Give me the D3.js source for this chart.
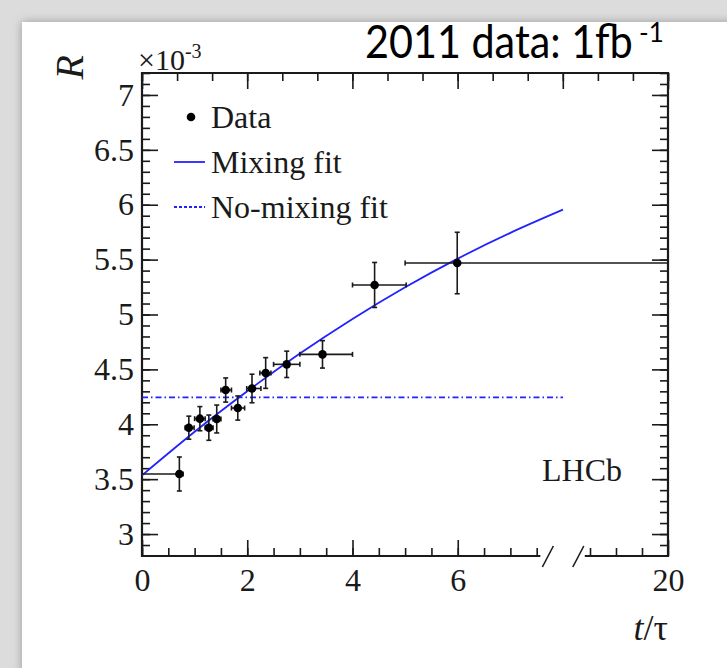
<!DOCTYPE html>
<html><head><meta charset="utf-8">
<script src="https://cdn.jsdelivr.net/npm/d3@7"></script>
<style>html,body{margin:0;padding:0;background:#dcdcdc;} svg{display:block;}</style>
</head><body><svg id="c" width="727" height="668"></svg>
<script>
// ---- data (R in units of 1e-3, t in units of tau) ----
const binCenter = [0.71, 0.89, 1.10, 1.27, 1.42, 1.59, 1.82, 2.09, 2.35, 2.75, 3.43, 4.42, 5.99];
const binLow    = [0.00, 0.82, 1.00, 1.20, 1.35, 1.50, 1.70, 1.99, 2.24, 2.50, 3.00, 4.00, 5.00];
const binHigh   = [0.78, 0.99, 1.20, 1.35, 1.50, 1.70, 1.95, 2.26, 2.45, 3.00, 4.00, 5.02, 20.0];
const ratio     = [3.547, 3.969, 4.051, 3.969, 4.048, 4.312, 4.148, 4.326, 4.467, 4.546, 4.637, 5.269, 5.469];
const ratioErr  = [0.155, 0.105, 0.110, 0.115, 0.127, 0.110, 0.110, 0.130, 0.140, 0.120, 0.125, 0.205, 0.280];
const mixT = [0, 1, 2, 3, 4, 5, 6, 7, 8];
const mixR = [3.535, 3.932, 4.301, 4.644, 4.959, 5.248, 5.509, 5.744, 5.955];
const noMixT = [0, 8];
const noMixR = [4.245, 4.245];
const yMajorTicks = [3, 3.5, 4, 4.5, 5, 5.5, 6, 6.5, 7];
const yTickLabels = ["3", "3.5", "4", "4.5", "5", "5.5", "6", "6.5", "7"];
const xMajorTicks = [0, 2, 4, 6, 20];
const xTickLabels = ["0", "2", "4", "6", "20"];
const legendLabels = ["Data", "Mixing fit", "No-mixing fit"];

// ---- layout ----
const L = 142, R = 668, T = 73, B = 556;
const svg = d3.select("#c");
const defs = svg.append("defs");
const f = defs.append("filter").attr("id","sh").attr("x","-5%").attr("y","-5%").attr("width","110%").attr("height","110%");
f.append("feGaussianBlur").attr("stdDeviation", 5);
svg.append("rect").attr("width",727).attr("height",668).attr("fill","#dcdcdc");
svg.append("rect").attr("x",22).attr("y",22).attr("width",720).attr("height",680).attr("fill","#9a9a9a").attr("filter","url(#sh)");
svg.append("rect").attr("x",22).attr("y",22).attr("width",720).attr("height",680).attr("fill","#ffffff");

const x = d3.scaleLinear().domain([0, 8, 16, 20]).range([L, 563, 564, R]);
const xTop = d3.scaleLinear().domain([0, 10]).range([L, R]);
const y = d3.scaleLinear().domain([2.8, 7.2]).range([B, T]);

const serif = "'Liberation Serif','Times New Roman',serif";
const ink = "#1a1a1a";

function styleAxis(g){
  g.select(".domain").remove();
  g.selectAll(".tick line").attr("stroke", ink).attr("stroke-width", 1.6);
  g.selectAll(".tick text").attr("font-family", serif).attr("font-size", 32).attr("fill", ink);
}

// left axis
const yMinor = d3.range(2.9, 7.2, 0.1).map(v => +v.toFixed(1));
svg.append("g").attr("transform",`translate(${L},0)`).call(d3.axisLeft(y).tickValues(yMinor).tickSize(-8).tickFormat("")).call(styleAxis);
svg.append("g").attr("transform",`translate(${L},0)`).call(d3.axisLeft(y).tickValues(yMajorTicks).tickSize(-16).tickPadding(8).tickFormat((d,i)=>yTickLabels[i])).call(styleAxis);
// right axis
svg.append("g").attr("transform",`translate(${R},0)`).call(d3.axisRight(y).tickValues(yMinor).tickSize(-8).tickFormat("")).call(styleAxis);
svg.append("g").attr("transform",`translate(${R},0)`).call(d3.axisRight(y).tickValues(yMajorTicks).tickSize(-16).tickFormat("")).call(styleAxis);
// top axis
const topMinor = d3.range(0, 10.01, 2/3).map(v => +v.toFixed(3));
svg.append("g").attr("transform",`translate(0,${T})`).call(d3.axisTop(xTop).tickValues(topMinor).tickSize(-8).tickFormat("")).call(styleAxis);
svg.append("g").attr("transform",`translate(0,${T})`).call(d3.axisTop(xTop).tickValues([0,2,4,6,8,10]).tickSize(-16).tickFormat("")).call(styleAxis);
// bottom axis
const xMinor = d3.range(0, 7.51, 0.5).concat([17, 18, 19]);
svg.append("g").attr("transform",`translate(0,${B})`).call(d3.axisBottom(x).tickValues(xMinor).tickSize(-8).tickFormat("")).call(styleAxis);
const bx = svg.append("g").attr("transform",`translate(0,${B})`).call(d3.axisBottom(x).tickValues(xMajorTicks).tickSize(-16).tickPadding(12).tickFormat((d,i)=>xTickLabels[i])).call(styleAxis);
bx.selectAll(".tick text").attr("dy","0.71em");

// frame
const frame = svg.append("g").attr("stroke", ink).attr("stroke-width", 2.2).attr("fill","none");
frame.append("path").attr("d", `M${x(7.57)},${B}H${L}V${T}H${R}V${B}H${x(16.8)}`);
frame.append("line").attr("x1", x(7.57)+2).attr("y1", B+11).attr("x2", x(7.57)+13).attr("y2", B-10).attr("stroke-width",1.6);
frame.append("line").attr("x1", x(16.8)-12).attr("y1", B+11).attr("x2", x(16.8)-1).attr("y2", B-10).attr("stroke-width",1.6);

// fits
const blue = "#2222ff";
const line = d3.line().x(d => x(d[0])).y(d => y(d[1]));
svg.append("path").attr("d", line(noMixT.map((t,i)=>[t,noMixR[i]])))
  .attr("stroke", blue).attr("stroke-width", 1.8).attr("fill","none").attr("stroke-dasharray","6,3,1.5,3");
svg.append("path").attr("d", line.curve(d3.curveNatural)(mixT.map((t,i)=>[t,mixR[i]])))
  .attr("stroke", blue).attr("stroke-width", 1.8).attr("fill","none");

// data
const eb = svg.append("g").attr("stroke", ink).attr("stroke-width", 1.6);
const cap = 2.5;
binCenter.forEach((t,i)=>{
  const cx = x(t), cy = y(ratio[i]);
  const y1 = y(ratio[i]+ratioErr[i]), y2 = y(ratio[i]-ratioErr[i]);
  const xl = x(binLow[i]), xh = x(binHigh[i]);
  eb.append("line").attr("x1",cx).attr("x2",cx).attr("y1",y1).attr("y2",y2);
  eb.append("line").attr("x1",cx-cap).attr("x2",cx+cap).attr("y1",y1).attr("y2",y1);
  eb.append("line").attr("x1",cx-cap).attr("x2",cx+cap).attr("y1",y2).attr("y2",y2);
  eb.append("line").attr("x1",xl).attr("x2",xh).attr("y1",cy).attr("y2",cy);
  if (binLow[i] > 0) eb.append("line").attr("x1",xl).attr("x2",xl).attr("y1",cy-cap).attr("y2",cy+cap);
  if (binHigh[i] < 20) eb.append("line").attr("x1",xh).attr("x2",xh).attr("y1",cy-cap).attr("y2",cy+cap);
});
svg.append("g").selectAll("circle").data(binCenter).join("circle")
  .attr("cx", d => x(d)).attr("cy", (d,i) => y(ratio[i])).attr("r", 4.3).attr("fill", "#000");

// legend
const lg = svg.append("g");
lg.append("circle").attr("cx",191).attr("cy",117).attr("r",4.3).attr("fill","#000");
lg.append("line").attr("x1",174).attr("x2",205).attr("y1",162).attr("y2",162).attr("stroke",blue).attr("stroke-width",1.8);
lg.append("line").attr("x1",174).attr("x2",205).attr("y1",207).attr("y2",207).attr("stroke",blue).attr("stroke-width",1.8).attr("stroke-dasharray","3,2");
lg.selectAll("text").data(legendLabels).join("text")
  .attr("x", 211).attr("y", (d,i) => [117,162,207][i]).attr("dy","0.35em")
  .attr("font-family", serif).attr("font-size", 32).attr("fill", ink).text(d => d);

// texts
svg.append("text").attr("x", 622).attr("y", 481).attr("text-anchor","end")
  .attr("font-family", serif).attr("font-size", 32).attr("fill", ink).text("LHCb");
const ex = svg.append("text").attr("x", 138).attr("y", 70).attr("font-family", serif).attr("font-size", 30).attr("fill", ink);
ex.append("tspan").text("×10");
ex.append("tspan").attr("dy", -12).attr("font-size", 20).text("-3");
svg.append("text").attr("transform","translate(83,55) rotate(-90)").attr("text-anchor","end")
  .attr("font-family", serif).attr("font-style","italic").attr("font-size", 40).attr("fill", ink).text("R");
const xt = svg.append("text").attr("x", R).attr("y", 640).attr("text-anchor","end")
  .attr("font-family", serif).attr("font-size", 36).attr("fill", ink);
xt.append("tspan").attr("font-style","italic").text("t");
xt.append("tspan").text("/τ");
const ttl = svg.append("text").attr("x", 0).attr("y", 0)
  .attr("font-family", "Lato, 'Open Sans', sans-serif").attr("font-size", 46).attr("fill", "#000")
  .text("2011 data: 1fb");
const natW = ttl.node().getComputedTextLength();
ttl.attr("transform", `translate(365,58) scale(${268/natW},1)`);
svg.append("text").attr("x", 639).attr("y", 42)
  .attr("font-family", "Lato, 'Open Sans', sans-serif").attr("font-size", 26).attr("fill", "#000").text("-1");
</script></body></html>
